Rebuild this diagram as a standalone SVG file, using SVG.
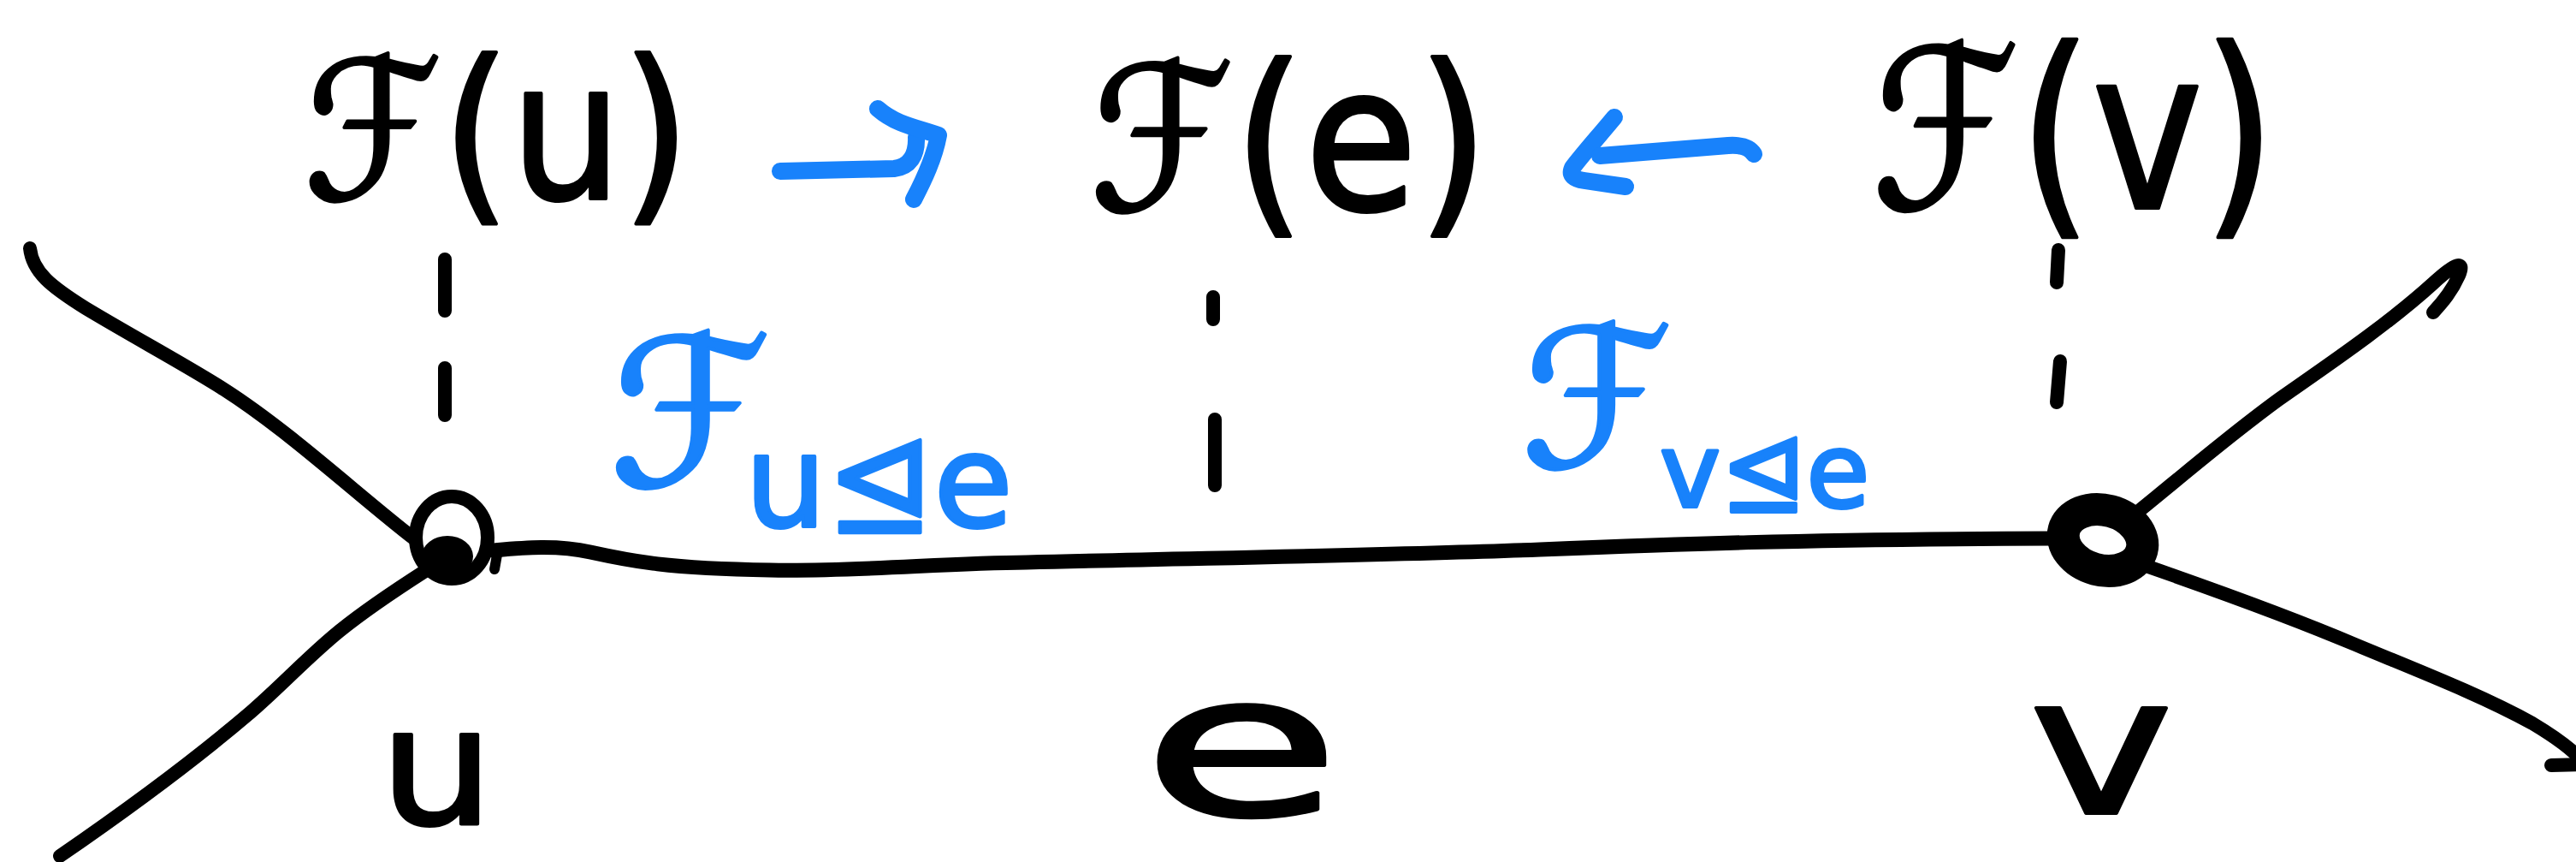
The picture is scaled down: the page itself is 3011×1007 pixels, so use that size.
<svg xmlns="http://www.w3.org/2000/svg" width="3011" height="1007" viewBox="0 0 3011 1007">
<style>
.ink{fill:none;stroke:#000;stroke-linecap:round;stroke-linejoin:round}
.edge{stroke-width:16}
.dash{stroke-width:16}
.arrow{fill:none;stroke:#1882fb;stroke-width:20;stroke-linecap:round;stroke-linejoin:round}
.t{font-family:"DejaVu Sans","Noto Sans",sans-serif;fill:#000;stroke:#000;stroke-width:4;stroke-linejoin:round}
.tb{font-family:"DejaVu Sans","Noto Sans",sans-serif;fill:#1882fb;stroke:#1882fb;stroke-width:4;stroke-linejoin:round}
</style>
<rect width="3011" height="1007" fill="#fff"/>
<g id="connectors">
  <path class="ink edge" d="M35,290 C38,318 60,335 100,360 C160,396 220,428 262,455 C340,505 420,580 485,630"/>
  <path class="ink edge" d="M497,667 C458,692 428,712 397,737 C360,767 330,800 293,832 C225,890 150,945 70,1000"/>
  <path class="ink edge" style="stroke-width:17" d="M576,643 C610,640 650,636 690,645 C740,656 780,664 900,666 C1000,668 1100,658 1200,657 C1400,652 1650,648 1800,642 C1950,636 2100,630 2400,629"/>
  <path class="ink edge" d="M2500,597 C2540,565 2600,513 2663,467 C2720,427 2790,380 2844,331 C2870,307 2882,303 2874,322 C2866,340 2856,352 2844,365"/>
  <path class="ink edge" d="M2511,662 C2600,693 2680,722 2753,753 C2830,785 2900,812 2960,845 C2995,866 3012,880 3020,892"/>
  <path class="ink edge" d="M2982,894 L3020,893"/>
  <path class="ink dash" d="M520,303 L520,363 M520,430 L520,485"/>
  <path class="ink dash" d="M1418,347 L1418,373 M1420,490 L1420,567"/>
  <path class="ink dash" d="M2406,292 L2404,330 M2408,422 L2404,470"/>
  <path class="arrow" d="M912,200 L1045,197 C1063,195 1072,182 1071,160"/>
  <path class="arrow" d="M1026,127 C1050,148 1078,150 1097,158 C1092,185 1080,210 1068,233"/>
  <path class="arrow" d="M1887,137 C1868,160 1850,180 1838,196 C1834,205 1840,209 1852,211 L1900,218"/>
  <path class="arrow" d="M1870,182 L2020,170 C2035,169 2045,172 2050,180"/>
</g>
<g id="vertex-u">
  <ellipse class="ink" style="stroke-width:16" cx="528" cy="628" rx="42" ry="48"/>
  <ellipse cx="523" cy="650" rx="30" ry="24" fill="#000"/>
  <path class="ink" style="stroke-width:12" d="M581,648 L578,665"/>
</g>
<g id="vertex-v">
  <ellipse class="ink" style="stroke-width:38" cx="2458" cy="631" rx="47" ry="35" transform="rotate(15 2458 631)"/>
</g>
<g id="label-Fu">
  <text class="t" font-size="225" x="355" y="232" textLength="452" lengthAdjust="spacingAndGlyphs">ℱ(u)</text>
</g>
<g id="label-Fe">
  <text class="t" font-size="235" x="1274" y="245" textLength="466" lengthAdjust="spacingAndGlyphs">ℱ(e)</text>
</g>
<g id="label-Fv">
  <text class="t" font-size="260" x="2188" y="243" textLength="472" lengthAdjust="spacingAndGlyphs">ℱ(v)</text>
</g>
<g id="label-Fue">
  <text class="tb" font-size="240" x="712" y="567">ℱ<tspan dx="-30" dy="48" font-size="150">u⊴e</tspan></text>
</g>
<g id="label-Fve">
  <text class="tb" font-size="225" x="1778" y="545">ℱ<tspan dx="-15" dy="47" font-size="120">v⊴e</tspan></text>
</g>
<g id="label-u">
  <text class="t" font-size="190" x="444" y="962" textLength="133" lengthAdjust="spacingAndGlyphs">u</text>
</g>
<g id="label-e">
  <text class="t" font-size="230" x="1335" y="952" textLength="232" lengthAdjust="spacingAndGlyphs">e</text>
</g>
<g id="label-v">
  <text class="t" font-size="225" x="2372" y="950" textLength="168" lengthAdjust="spacingAndGlyphs">v</text>
</g>
</svg>
